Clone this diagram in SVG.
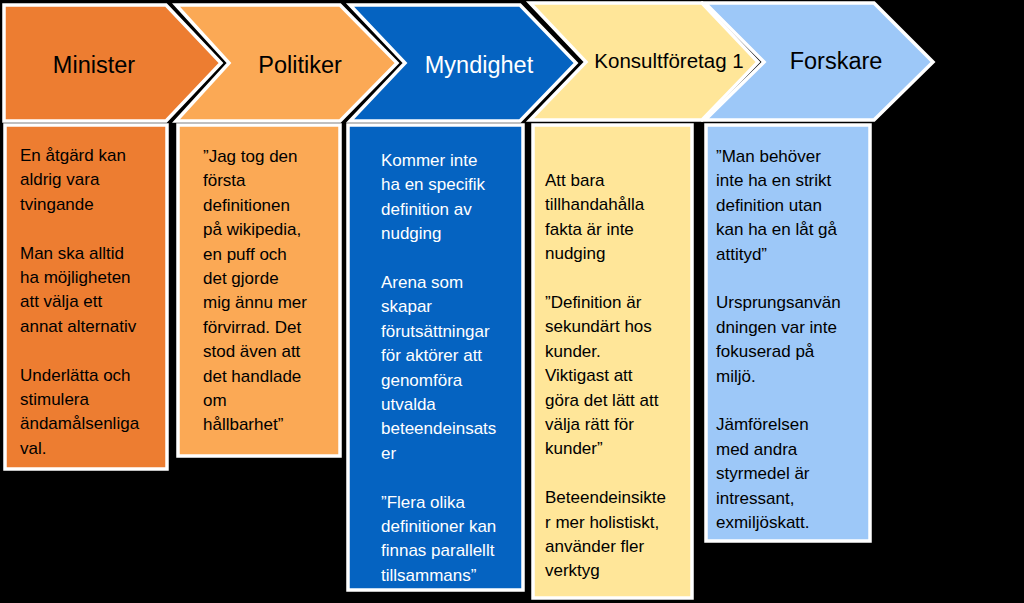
<svg xmlns="http://www.w3.org/2000/svg" width="1024" height="603" viewBox="0 0 1024 603">
<style>
.s{stroke:#fff;stroke-width:3.5;stroke-linejoin:miter}
.t{font-family:"Liberation Sans",Arial,sans-serif;font-size:17px;fill:#000}
.h{font-family:"Liberation Sans",Arial,sans-serif;font-size:23.5px;fill:#000;text-anchor:middle}
.w{fill:#fff}
</style>
<rect width="1024" height="603" fill="#000"/>
<g id="n1"><polygon class="s" fill="#ED7D31" points="4,5 166,5 221,63 166,121 4,121"/><text class="h" x="94" y="73">Minister</text></g>
<g id="n2"><polygon class="s" fill="#FBA955" points="176,5 340,5 397,63 340,121 176,121 229,63"/><text class="h" x="300" y="73">Politiker</text></g>
<g id="n3"><polygon class="s" fill="#0563C1" points="350,5 520,5 576,63 520,121 350,121 405,63"/><text class="h w" x="479" y="73">Myndighet</text></g>
<g id="n4"><polygon class="s" fill="#FFE699" points="530,3 702,3 758,62 702,120 530,120 586,62"/><text class="h" x="669" y="68" style="font-size:20.5px">Konsultföretag  1</text></g>
<g id="n5"><polygon class="s" fill="#9DC8F8" points="705,3 874,3 933,62 874,120 705,120 764,62"/><text class="h" x="836" y="69">Forskare</text></g>
<g id="b1"><rect class="s" fill="#ED7D31" x="5" y="125" width="162" height="344"/>
<text class="t" x="20" y="161"><tspan x="20">En åtgärd kan</tspan><tspan x="20" dy="24.4">aldrig vara</tspan><tspan x="20" dy="24.4">tvingande</tspan><tspan x="20" dy="48.8">Man ska alltid</tspan><tspan x="20" dy="24.4">ha möjligheten</tspan><tspan x="20" dy="24.4">att välja ett</tspan><tspan x="20" dy="24.4">annat alternativ</tspan><tspan x="20" dy="48.8">Underlätta och</tspan><tspan x="20" dy="24.4">stimulera</tspan><tspan x="20" dy="24.4">ändamålsenliga</tspan><tspan x="20" dy="24.4">val.</tspan></text></g>
<g id="b2"><rect class="s" fill="#FBA955" x="178" y="125" width="162" height="331"/>
<text class="t" x="203" y="162"><tspan x="203">”Jag tog den</tspan><tspan x="203" dy="24.4">första</tspan><tspan x="203" dy="24.4">definitionen</tspan><tspan x="203" dy="24.4">på wikipedia,</tspan><tspan x="203" dy="24.4">en puff och</tspan><tspan x="203" dy="24.4">det gjorde</tspan><tspan x="203" dy="24.4">mig ännu mer</tspan><tspan x="203" dy="24.4">förvirrad. Det</tspan><tspan x="203" dy="24.4">stod även att</tspan><tspan x="203" dy="24.4">det handlade</tspan><tspan x="203" dy="24.4">om</tspan><tspan x="203" dy="24.4">hållbarhet”</tspan></text></g>
<g id="b3"><rect class="s" fill="#0563C1" x="348" y="125" width="175" height="465"/>
<text class="t w" x="381" y="166"><tspan x="381">Kommer inte</tspan><tspan x="381" dy="24.4">ha en specifik</tspan><tspan x="381" dy="24.4">definition av</tspan><tspan x="381" dy="24.4">nudging</tspan><tspan x="381" dy="48.8">Arena som</tspan><tspan x="381" dy="24.4">skapar</tspan><tspan x="381" dy="24.4">förutsättningar</tspan><tspan x="381" dy="24.4">för aktörer att</tspan><tspan x="381" dy="24.4">genomföra</tspan><tspan x="381" dy="24.4">utvalda</tspan><tspan x="381" dy="24.4">beteendeinsats</tspan><tspan x="381" dy="24.4">er</tspan><tspan x="381" dy="48.8">”Flera olika</tspan><tspan x="381" dy="24.4">definitioner kan</tspan><tspan x="381" dy="24.4">finnas parallellt</tspan><tspan x="381" dy="24.4">tillsammans”</tspan></text></g>
<g id="b4"><rect class="s" fill="#FFE699" x="533" y="125" width="159" height="473"/>
<text class="t" x="545" y="186"><tspan x="545">Att bara</tspan><tspan x="545" dy="24.4">tillhandahålla</tspan><tspan x="545" dy="24.4">fakta är inte</tspan><tspan x="545" dy="24.4">nudging</tspan><tspan x="545" dy="48.8">”Definition är</tspan><tspan x="545" dy="24.4">sekundärt hos</tspan><tspan x="545" dy="24.4">kunder.</tspan><tspan x="545" dy="24.4">Viktigast att</tspan><tspan x="545" dy="24.4">göra det lätt att</tspan><tspan x="545" dy="24.4">välja rätt för</tspan><tspan x="545" dy="24.4">kunder”</tspan><tspan x="545" dy="48.8">Beteendeinsikte</tspan><tspan x="545" dy="24.4">r mer holistiskt,</tspan><tspan x="545" dy="24.4">använder fler</tspan><tspan x="545" dy="24.4">verktyg</tspan></text></g>
<g id="b5"><rect class="s" fill="#9DC8F8" x="706" y="125" width="164" height="416"/>
<text class="t" x="716" y="162"><tspan x="716">”Man behöver</tspan><tspan x="716" dy="24.4">inte ha en strikt</tspan><tspan x="716" dy="24.4">definition utan</tspan><tspan x="716" dy="24.4">kan ha en låt gå</tspan><tspan x="716" dy="24.4">attityd”</tspan><tspan x="716" dy="48.8">Ursprungsanvän</tspan><tspan x="716" dy="24.4">dningen var inte</tspan><tspan x="716" dy="24.4">fokuserad på</tspan><tspan x="716" dy="24.4">miljö.</tspan><tspan x="716" dy="48.8">Jämförelsen</tspan><tspan x="716" dy="24.4">med andra</tspan><tspan x="716" dy="24.4">styrmedel  är</tspan><tspan x="716" dy="24.4">intressant,</tspan><tspan x="716" dy="24.4">exmiljöskatt.</tspan></text></g>
<g id="connectors"/>
</svg>
